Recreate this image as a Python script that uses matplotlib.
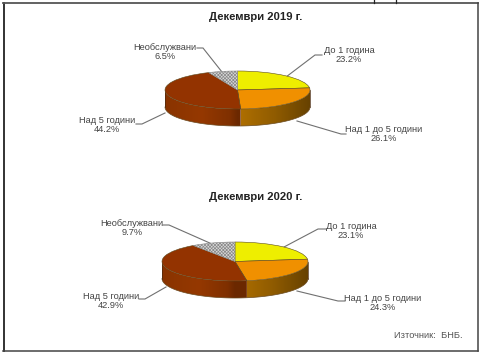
import numpy as np
import matplotlib
matplotlib.use("Agg")
import matplotlib.pyplot as plt
from matplotlib.colors import to_rgb
from matplotlib.patches import Polygon

plt.rcParams['font.family'] = ['Liberation Sans', 'DejaVu Sans']
plt.rcParams['hatch.linewidth'] = 0.5

categories = ['До 1 година', 'Над 1 до 5 години', 'Над 5 години', 'Необслужвани']
values_2019 = [23.2, 26.1, 44.2, 6.5]
values_2020 = [23.1, 24.3, 42.9, 9.7]
title_2019 = 'Декември 2019 г.'
title_2020 = 'Декември 2020 г.'
source = 'Източник:  БНБ.'

W, H = 480, 355
top_colors = ['#EEEE00', '#F09000', '#933300', '#D8D8D8']
side_colors = [None, '#B07000', '#953800', None]

fig = plt.figure(figsize=(W / 100, H / 100), dpi=100, facecolor='white')
bg = fig.add_axes([0, 0, 1, 1])
bg.set_xlim(0, W)
bg.set_ylim(H, 0)
bg.axis('off')


def side_shade(i, x):
    if i == 1:
        return np.interp(x, [0, 0.5, 1], [1.0, 0.82, 0.58])
    return np.interp(x, [-1, -0.5, -0.1, 0], [0.92, 1.0, 0.85, 0.72])


def draw_pie(values, cx, cy, rx, ry, depth):
    px = 2.0
    x0, x1 = cx - rx - px, cx + rx + px
    y0, y1 = cy - ry - px, cy + ry + depth + px
    ax = fig.add_axes([x0 / W, 1 - y1 / H, (x1 - x0) / W, (y1 - y0) / H])
    ax.patch.set_alpha(0)
    wedges, _ = ax.pie(values, startangle=90, counterclock=False, colors=top_colors,
                       radius=1, wedgeprops=dict(edgecolor='#5A4A20', linewidth=0.4))
    wedges[3].set_hatch('xxxxxxxxxx')
    wedges[3].set_edgecolor('#8A8A8A')
    d = depth / ry
    edges = np.cumsum([0] + list(values)) / 100 * 360
    for i, col in enumerate(side_colors):
        a0 = 90 - edges[i + 1]
        a1 = 90 - edges[i]
        lo, hi = max(a0, -180), min(a1, 0)
        if col is None or lo >= hi:
            continue
        th = np.radians(np.linspace(lo, hi, 160))
        xs, ys = np.cos(th), np.sin(th)
        poly = Polygon(np.column_stack([np.r_[xs, xs[::-1]], np.r_[ys, ys[::-1] - d]]),
                       closed=True, transform=ax.transData)
        gx = np.linspace(xs.min(), xs.max(), 200)
        rgb = np.clip(np.outer(side_shade(i, gx), to_rgb(col)), 0, 1)[None, :, :]
        im = ax.imshow(rgb, extent=(gx[0], gx[-1], -1 - d, 0), aspect='auto',
                       interpolation='bilinear', zorder=0.5)
        im.set_clip_path(poly)
    ax.set_aspect('auto')
    ax.set_xlim(-1 - px / rx, 1 + px / rx)
    ax.set_ylim(-1 - d - px / ry, 1 + px / ry)
    th = np.radians(np.linspace(-180, 0, 120))
    ax.plot(np.cos(th), np.sin(th) - d, color='#6A4A20', lw=0.5, zorder=0.6)
    for x in (-1, 1):
        ax.plot([x, x], [0, -d], color='#4A2A10', lw=0.5, zorder=0.6)


def label(values, i, x, y):
    bg.text(x, y, f'{categories[i]}\n{values[i]:.1f}%', ha='center', va='center',
            fontsize=6.7, color='#444444', linespacing=1.1)


def leader(xs, ys):
    bg.plot(xs, ys, color='#707070', lw=0.8, solid_joinstyle='miter')


draw_pie(values_2019, 237.5, 90, 72.5, 19, 17)
draw_pie(values_2020, 235, 261.5, 73, 19.5, 17)

bg.text(256, 17, title_2019, ha='center', va='center', fontsize=8.1, weight='bold', color='#222222')
bg.text(256, 197, title_2020, ha='center', va='center', fontsize=8.1, weight='bold', color='#222222')

for i, (x, y) in enumerate([(349, 55), (384, 134), (107, 125), (165, 52)]):
    label(values_2019, i, x, y)
for i, (x, y) in enumerate([(351, 231), (383, 303), (111, 301), (132, 228)]):
    label(values_2020, i, x, y)

leader([322, 315, 286], [55, 55, 77])
leader([346, 341, 297], [134, 134, 121])
leader([136, 142, 165], [124, 124, 113])
leader([197, 203, 222], [48, 48, 72])
leader([326, 318, 284], [229, 229, 247])
leader([345, 338, 297], [301, 301, 291])
leader([139, 145, 166], [299, 299, 287])
leader([163, 169, 212], [225, 225, 244])

bg.text(463, 336, source, ha='right', va='center', fontsize=6.7, color='#555555')

# frame
bg.plot([3.5, 3.5], [3, 351], color='#222222', lw=1.3)
bg.plot([3, 477.5], [3, 3], color='#555555', lw=1.3)
bg.plot([477.5, 477.5], [3, 351], color='#444444', lw=1.1)
bg.plot([3, 477.5], [351, 351], color='#444444', lw=1.1)
bg.plot([374, 374], [0, 3], color='#222222', lw=0.9)
bg.plot([396, 396], [0, 3], color='#222222', lw=0.9)

fig.savefig('out.png', dpi=100, facecolor='white')
